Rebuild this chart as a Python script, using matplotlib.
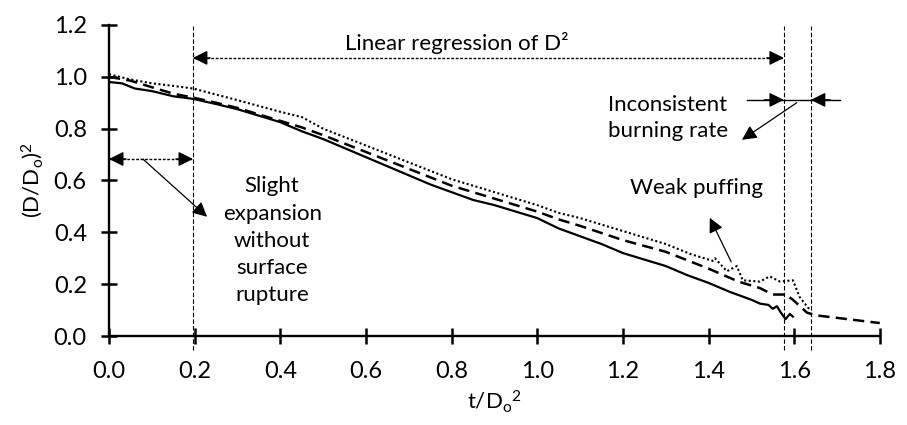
import matplotlib
matplotlib.use("Agg")
import matplotlib.pyplot as plt

plt.rcParams["font.family"] = ["Lato", "DejaVu Sans"]
plt.rcParams["font.size"] = 16
plt.rcParams["mathtext.fontset"] = "custom"
plt.rcParams["mathtext.rm"] = "Lato"
plt.rcParams["mathtext.it"] = "Lato"

# data
x_solid = [0, 0.03, 0.06, 0.1, 0.15, 0.196, 0.25, 0.3, 0.35, 0.4, 0.45, 0.5, 0.55, 0.6, 0.65, 0.7,
           0.75, 0.8, 0.85, 0.9, 0.95, 1.0, 1.05, 1.1, 1.15, 1.2, 1.25, 1.3, 1.35, 1.4, 1.45,
           1.5, 1.52, 1.54, 1.55, 1.56, 1.567, 1.58, 1.59, 1.597]
y_solid = [0.98, 0.975, 0.955, 0.945, 0.925, 0.915, 0.895, 0.875, 0.85, 0.825, 0.79, 0.76, 0.725, 0.69,
           0.655, 0.62, 0.585, 0.555, 0.525, 0.505, 0.48, 0.455, 0.415, 0.385, 0.355, 0.32,
           0.295, 0.27, 0.235, 0.205, 0.17, 0.14, 0.125, 0.12, 0.105, 0.115, 0.095, 0.065, 0.085, 0.075]

x_dash = [0, 0.05, 0.1, 0.15, 0.196, 0.25, 0.3, 0.35, 0.4, 0.45, 0.5, 0.6, 0.7, 0.8, 0.9, 1.0,
          1.05, 1.1, 1.2, 1.3, 1.4, 1.47, 1.52, 1.55, 1.58, 1.597, 1.63, 1.65, 1.7, 1.75, 1.8]
y_dash = [1.0, 0.985, 0.96, 0.935, 0.92, 0.9, 0.88, 0.855, 0.83, 0.805, 0.775, 0.71, 0.645, 0.58,
          0.53, 0.48, 0.45, 0.425, 0.37, 0.325, 0.26, 0.21, 0.185, 0.16, 0.16, 0.14, 0.09,
          0.08, 0.07, 0.06, 0.05]

x_dot = [0, 0.05, 0.1, 0.15, 0.196, 0.3, 0.4, 0.45, 0.5, 0.6, 0.7, 0.8, 0.9, 1.0, 1.05, 1.1, 1.2,
         1.3, 1.36, 1.41, 1.415, 1.443, 1.466, 1.48, 1.52, 1.543, 1.567, 1.597, 1.613, 1.637]
y_dot = [1.01, 0.99, 0.975, 0.965, 0.955, 0.91, 0.865, 0.845, 0.8, 0.735, 0.67, 0.605, 0.555,
         0.505, 0.475, 0.455, 0.405, 0.355, 0.315, 0.29, 0.30, 0.25, 0.27, 0.215, 0.21, 0.23,
         0.21, 0.215, 0.15, 0.10]

v_lines = [0.196, 1.576, 1.639]

fig = plt.figure(figsize=(9.07, 4.25), dpi=100)
ax = fig.add_axes([0.1202, 0.2094, 0.8498, 0.7318])

ax.plot(x_solid, y_solid, color="black", linewidth=1.6)
ax.plot(x_dash, y_dash, color="black", linewidth=1.8, linestyle=(0, (4.5, 2.5)))
ax.plot(x_dot, y_dot, color="black", linewidth=1.5, linestyle=(0, (1, 1.2)))

for xv in v_lines:
    ax.plot([xv, xv], [-0.055, 1.195], color="black", linewidth=0.8,
            linestyle=(0, (4, 2)), clip_on=False)

ax.set_xlim(0, 1.8)
ax.set_ylim(0, 1.2)
ax.set_xticks([0, 0.2, 0.4, 0.6, 0.8, 1.0, 1.2, 1.4, 1.6, 1.8])
ax.set_yticks([0, 0.2, 0.4, 0.6, 0.8, 1.0, 1.2])
ax.xaxis.set_major_formatter(matplotlib.ticker.FormatStrFormatter("%.1f"))
ax.yaxis.set_major_formatter(matplotlib.ticker.FormatStrFormatter("%.1f"))
ax.spines["top"].set_visible(False)
ax.spines["right"].set_visible(False)
ax.spines["left"].set_linewidth(1.7)
ax.spines["bottom"].set_linewidth(1.7)
ax.tick_params(direction="inout", length=12, width=1.8, labelsize=17)
ax.tick_params(axis="x", pad=12)
ax.tick_params(axis="y", pad=10)

ax.set_xlabel("t/D$_\\mathrm{o}$$^2$", fontsize=16, labelpad=5)
ax.set_ylabel("(D/D$_\\mathrm{o}$)$^2$", fontsize=16, labelpad=6)

head = dict(arrowstyle="-|>", color="black", lw=1.0, mutation_scale=22, shrinkA=0, shrinkB=0)
dotted = (0, (2, 1.2))


def dbl_arrow(x0, x1, y):
    ax.plot([x0, x1], [y, y], color="black", linewidth=1.0, linestyle=dotted, clip_on=False)
    ax.annotate("", xy=(x0, y), xytext=(x0 + 0.04, y), arrowprops=head, annotation_clip=False)
    ax.annotate("", xy=(x1, y), xytext=(x1 - 0.04, y), arrowprops=head, annotation_clip=False)


dbl_arrow(0.196, 1.576, 1.073)
dbl_arrow(0.0, 0.196, 0.683)

ax.text(0.813, 1.131, "Linear regression of D²", ha="center", va="center", fontsize=16)

# slight expansion
ax.annotate("", xy=(0.229, 0.46), xytext=(0.079, 0.683),
            arrowprops=dict(arrowstyle="-|>", color="black", lw=0.9, mutation_scale=22,
                            shrinkA=0, shrinkB=0))
ax.text(0.381, 0.367, "Slight\nexpansion\nwithout\nsurface\nrupture", ha="center", va="center",
        fontsize=16, linespacing=1.45)

# inconsistent burning rate
ax.plot([1.49, 1.707], [0.911, 0.911], color="black", linewidth=1.0)
ax.annotate("", xy=(1.576, 0.911), xytext=(1.53, 0.911), arrowprops=head)
ax.annotate("", xy=(1.639, 0.911), xytext=(1.685, 0.911), arrowprops=head)
ax.annotate("", xy=(1.478, 0.757), xytext=(1.606, 0.90),
            arrowprops=dict(arrowstyle="-|>", color="black", lw=0.9, mutation_scale=22,
                            shrinkA=0, shrinkB=0))
ax.text(1.305, 0.842, "Inconsistent\nburning rate", ha="center", va="center", fontsize=16,
        linespacing=1.4)

# weak puffing
ax.annotate("", xy=(1.403, 0.456), xytext=(1.453, 0.286),
            arrowprops=dict(arrowstyle="-|>", color="black", lw=0.9, mutation_scale=22,
                            shrinkA=0, shrinkB=0))
ax.text(1.372, 0.571, "Weak puffing", ha="center", va="center", fontsize=16)

fig.savefig("out.png", dpi=100)
